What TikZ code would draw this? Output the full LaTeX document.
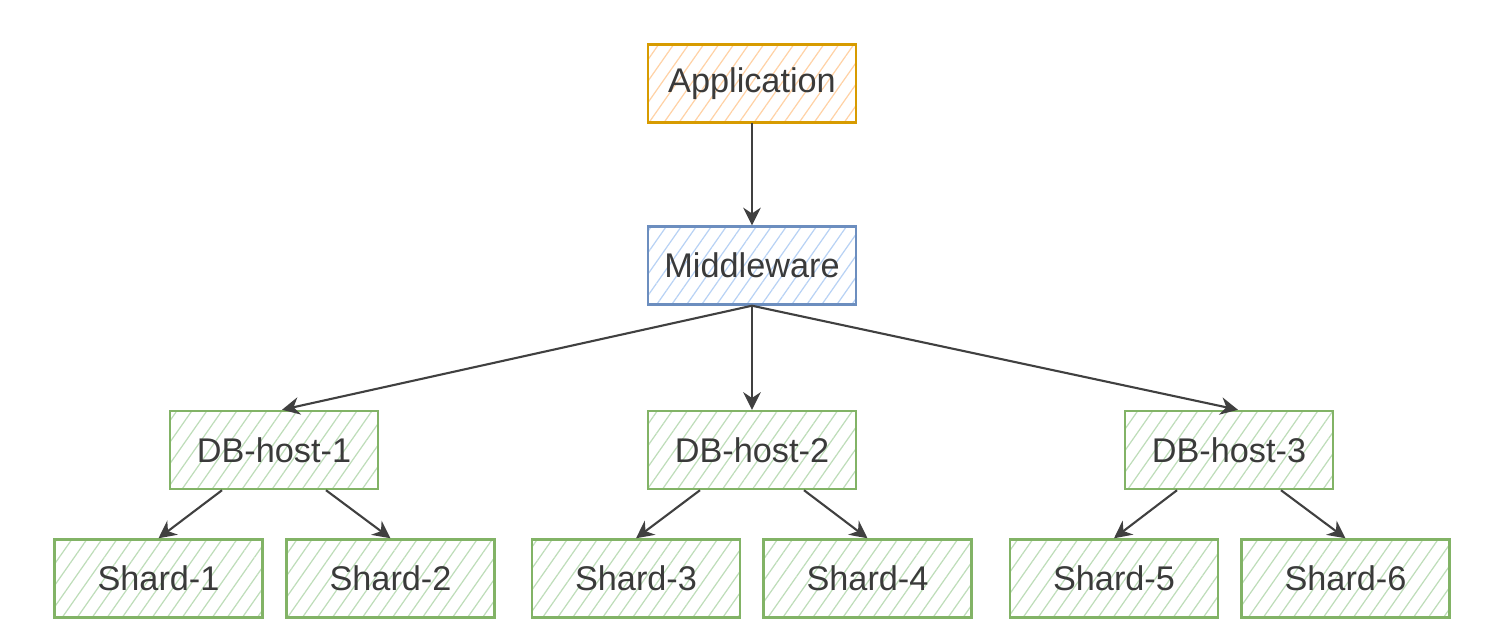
\documentclass[tikz,border=0pt]{standalone}
\usepackage{fontspec}
\setmainfont{Liberation Sans}
\usetikzlibrary{arrows.meta,patterns.meta,calc}
\definecolor{txt}{HTML}{3A3A3A}
\definecolor{arr}{HTML}{404040}
\definecolor{ostroke}{HTML}{D79B00}
\definecolor{ofill}{HTML}{FFD2A6}
\definecolor{bstroke}{HTML}{6C8EBF}
\definecolor{bfill}{HTML}{B8D2F4}
\definecolor{gstroke}{HTML}{82B366}
\definecolor{gfill}{HTML}{BEDDB9}
\tikzset{
  box/.style={draw, line width=1.4pt, minimum width=4.16cm, minimum height=1.56cm,
    inner sep=0pt, font=\fontsize{19.5}{22}\selectfont, text=txt},
  hatch/.style={pattern={Lines[angle=55,distance=7pt,line width=0.7pt]}},
  obox/.style={box, draw=ostroke, hatch, pattern color=ofill},
  bbox/.style={box, draw=bstroke, hatch, pattern color=bfill},
  gbox/.style={box, draw=gstroke, hatch, pattern color=gfill},
  conn/.style={draw=arr, line width=1.2pt, -{Stealth[length=10pt,width=10pt]}}
}
\begin{document}
\begin{tikzpicture}[x=0.02cm,y=-0.02cm]
\useasboundingbox (0,0) rectangle (1499,642);
\node[obox] (app) at (752,83.5) {Application};
\node[bbox] (mw) at (752,265.5) {Middleware};
\node[gbox] (db1) at (274,450) {DB-host-1};
\node[gbox] (db2) at (752,450) {DB-host-2};
\node[gbox] (db3) at (1229,450) {DB-host-3};
\node[gbox] (s1) at (158.5,578.5) {Shard-1};
\node[gbox] (s2) at (390.5,578.5) {Shard-2};
\node[gbox] (s3) at (636,578.5) {Shard-3};
\node[gbox] (s4) at (867.5,578.5) {Shard-4};
\node[gbox] (s5) at (1114,578.5) {Shard-5};
\node[gbox] (s6) at (1345.5,578.5) {Shard-6};
\draw[conn] (app.south) -- (mw.north);
\draw[conn] (mw.south) -- ([xshift=0.16cm]db1.north);
\draw[conn] (mw.south) -- (db2.north);
\draw[conn] (mw.south) -- ([xshift=0.18cm]db3.north);
\foreach \h/\a/\b in {db1/s1/s2, db2/s3/s4, db3/s5/s6}{
  \draw[conn] ([xshift=-1.04cm]\h.south) -- (\a.north);
  \draw[conn] ([xshift=1.04cm]\h.south) -- (\b.north);
}
\end{tikzpicture}
\end{document}
